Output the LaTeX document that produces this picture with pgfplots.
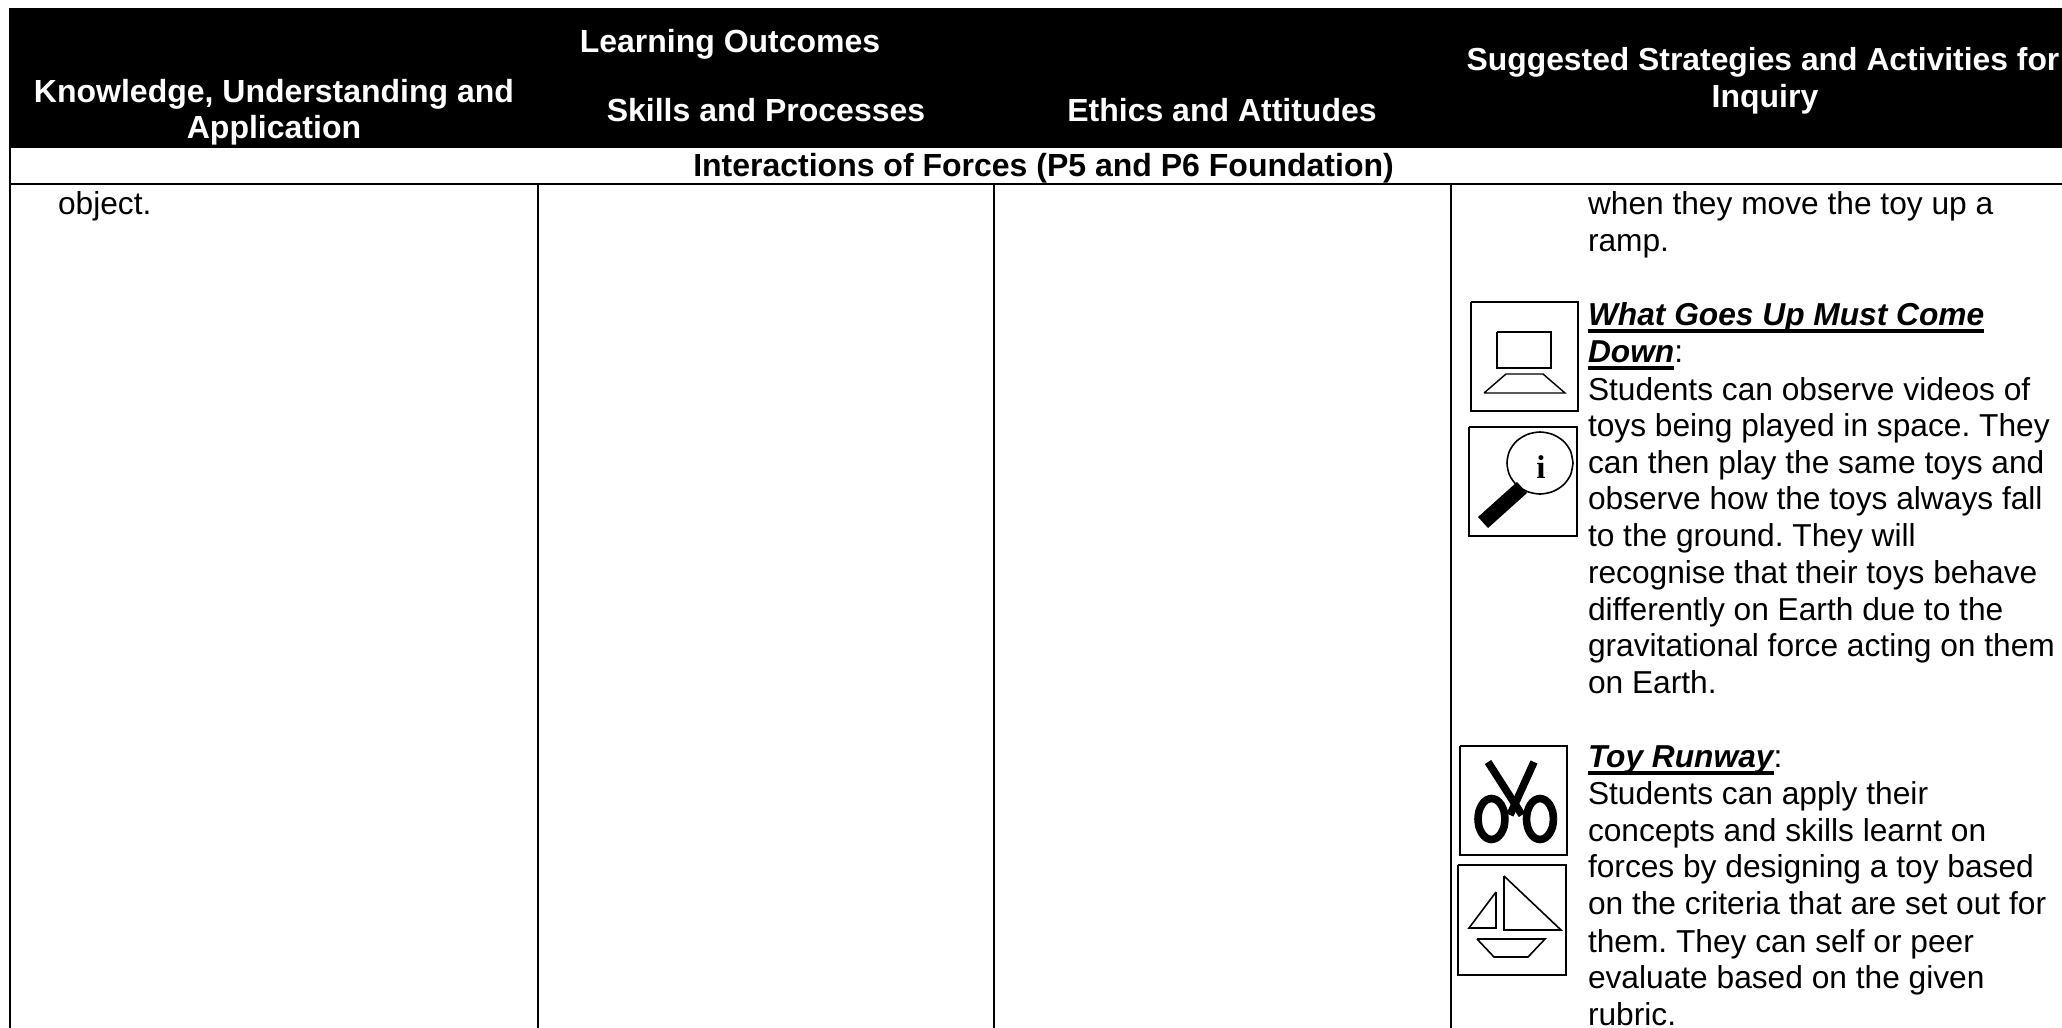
\documentclass[border=0pt]{standalone}
\usepackage{fontspec}
\setmainfont{Liberation Sans}
\newfontfamily\serifi{Liberation Serif}
\usepackage{pgfplots}
\pgfplotsset{compat=1.18}
\frenchspacing
\newsavebox{\ulbox}
\newcommand{\ulu}[1]{\sbox{\ulbox}{#1}\rlap{\rule[-3.8pt]{\wd\ulbox}{1.6pt}}\usebox{\ulbox}}
\newcommand{\bodyfont}{\fontsize{15.85}{18}\selectfont\frenchspacing}
\newcommand{\headfont}{\fontsize{16}{18}\selectfont\bfseries}
\tikzset{
 B/.style={anchor=base west,inner sep=0pt,outer sep=0pt,font=\bodyfont,text=black},
 H/.style={anchor=base,inner sep=0pt,outer sep=0pt,font=\headfont,text=white},
 K/.style={anchor=base,inner sep=0pt,outer sep=0pt,font=\headfont,text=black}
}
\begin{document}
\begin{tikzpicture}
\path[use as bounding box] (0,0) rectangle (1031pt,514pt);
\begin{axis}[at={(0,0)},anchor=south west,scale only axis,width=1031pt,height=514pt,
 xmin=0,xmax=2062,ymin=0,ymax=1028,y dir=reverse,hide axis,clip=true]
% header band
\addplot[fill=black,draw=none] coordinates {(9,8) (2062,8) (2062,148) (9,148)} -- cycle;
% table rules
\addplot[black,line width=1pt] coordinates {(10,148) (10,1028)};
\addplot[black,line width=1pt] coordinates {(10,184) (2062,184)};
\addplot[black,line width=0.9pt] coordinates {(538,184) (538,1028)};
\addplot[black,line width=0.9pt] coordinates {(994,184) (994,1028)};
\addplot[black,line width=0.9pt] coordinates {(1451,184) (1451,1028)};
% computer icon
\addplot[black,line width=0.8pt] coordinates {(1471,302) (1578,302) (1578,411) (1471,411) (1471,302)};
\addplot[black,line width=0.8pt] coordinates {(1497,332) (1551,332) (1551,368) (1497,368) (1497,332)};
\addplot[black,line width=0.7pt] coordinates {(1484,393) (1506,374) (1543,374) (1565,393) (1484,393)};
% magnifier icon
\addplot[black,line width=0.8pt] coordinates {(1469,427) (1577,427) (1577,536) (1469,536) (1469,427)};
\addplot[black,line width=0.8pt,smooth] coordinates {(1573,463) (1570.5,475) (1563.3,485) (1552.6,491.6) (1540,494) (1527.4,491.6) (1516.7,485) (1509.5,475) (1507,463) (1509.5,451) (1516.7,441) (1527.4,434.4) (1540,432) (1552.6,434.4) (1563.3,441) (1570.5,451) (1573,463)};
\addplot[fill=black,draw=none] coordinates {(1517,482) (1527,493) (1488,528) (1478,517)} -- cycle;
\node[anchor=base,inner sep=0pt,font=\serifi\fontsize{16.5}{18}\selectfont\bfseries] at (axis cs:1541,478) {i};
% scissors icon
\addplot[black,line width=0.8pt] coordinates {(1460,746) (1567,746) (1567,855) (1460,855) (1460,746)};
\addplot[black,line width=3.8pt] coordinates {(1488,762) (1522,815)};
\addplot[black,line width=3.8pt] coordinates {(1534,762) (1510,815)};
\addplot[black,line width=3.8pt,smooth] coordinates {(1505,819) (1504,826.8) (1501,833.5) (1496.7,837.9) (1491.5,839.5) (1486.3,837.9) (1482,833.5) (1479,826.8) (1478,819) (1479,811.2) (1482,804.5) (1486.3,800.1) (1491.5,798.5) (1496.7,800.1) (1501,804.5) (1504,811.2) (1505,819)};
\addplot[black,line width=3.8pt,smooth] coordinates {(1553.5,819) (1552.5,826.8) (1549.5,833.5) (1545.2,837.9) (1540,839.5) (1534.8,837.9) (1530.5,833.5) (1527.5,826.8) (1526.5,819) (1527.5,811.2) (1530.5,804.5) (1534.8,800.1) (1540,798.5) (1545.2,800.1) (1549.5,804.5) (1552.5,811.2) (1553.5,819)};
% boat icon
\addplot[black,line width=0.8pt] coordinates {(1458,865) (1566,865) (1566,975) (1458,975) (1458,865)};
\addplot[black,line width=0.8pt] coordinates {(1496,892) (1496,928) (1469,928) (1496,892)};
\addplot[black,line width=0.8pt] coordinates {(1504,876) (1504,930) (1561,930) (1504,876)};
\addplot[black,line width=0.8pt] coordinates {(1477,939) (1545,939) (1528,957) (1494,957) (1477,939)};
% header text
\node[H] at (axis cs:730,52) {Learning Outcomes};
\node[H] at (axis cs:274,102) {Knowledge, Understanding and};
\node[H] at (axis cs:274,138) {Application};
\node[H] at (axis cs:766,121) {Skills and Processes};
\node[H] at (axis cs:1222,121) {Ethics and Attitudes};
\node[H,font=\fontsize{15.92}{18}\selectfont\bfseries] at (axis cs:1763,70) {Suggested Strategies and Activities for};
\node[H] at (axis cs:1765,107) {Inquiry};
\node[K] at (axis cs:1043.5,176) {Interactions of Forces (P5 and P6 Foundation)};
% body text
\node[B] at (axis cs:58,214) {object.};
\node[B] at (axis cs:1588,214) {when they move the toy up a};
\node[B] at (axis cs:1588,251) {ramp.};
\node[B] at (axis cs:1588,325) {\bfseries\itshape\ulu{What Goes Up Must Come}};
\node[B] at (axis cs:1588,362) {\bfseries\itshape\ulu{Down}\normalfont:};
\node[B] at (axis cs:1588,400) {Students can observe videos of};
\node[B] at (axis cs:1588,436) {toys being played in space. They};
\node[B] at (axis cs:1588,473) {can then play the same toys and};
\node[B] at (axis cs:1588,509) {observe how the toys always fall};
\node[B] at (axis cs:1588,546) {to the ground. They will};
\node[B] at (axis cs:1588,583) {recognise that their toys behave};
\node[B] at (axis cs:1588,620) {differently on Earth due to the};
\node[B] at (axis cs:1588,656) {gravitational force acting on them};
\node[B] at (axis cs:1588,693) {on Earth.};
\node[B] at (axis cs:1588,767) {\bfseries\itshape\ulu{Toy Runway}\normalfont:};
\node[B] at (axis cs:1588,804) {Students can apply their};
\node[B] at (axis cs:1588,841) {concepts and skills learnt on};
\node[B] at (axis cs:1588,877) {forces by designing a toy based};
\node[B] at (axis cs:1588,914) {on the criteria that are set out for};
\node[B] at (axis cs:1588,952) {them. They can self or peer};
\node[B] at (axis cs:1588,988) {evaluate based on the given};
\node[B] at (axis cs:1588,1025) {rubric.};
\end{axis}
\end{tikzpicture}
\end{document}
